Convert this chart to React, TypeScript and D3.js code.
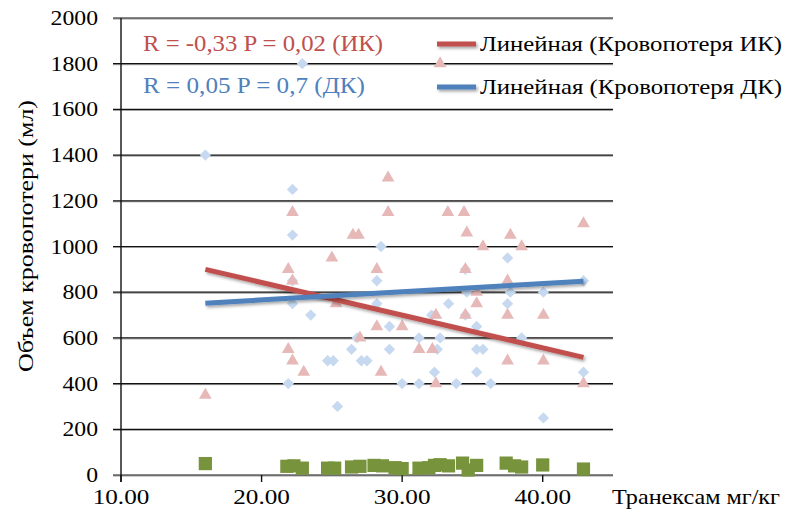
import React from 'react';
import * as d3 from 'd3';

// ---- Data ----
const xTicks = [10, 20, 30, 40];
const xTickLabels = ['10.00', '20.00', '30.00', '40.00'];
const yTicks = [0, 200, 400, 600, 800, 1000, 1200, 1400, 1600, 1800, 2000];

// Кровопотеря ИК (triangles)
const ikPoints: [number, number][] = [
  [16.0, 350], [21.9, 900], [22.2, 850], [22.2, 1150], [21.9, 550], [22.2, 500],
  [23.0, 450], [25.0, 950], [25.3, 750], [26.5, 1050], [26.9, 1050], [27.0, 600],
  [28.2, 900], [28.2, 650], [28.5, 450], [29.0, 1300], [29.0, 1150], [30.0, 650],
  [31.2, 550], [32.15, 550], [32.4, 700], [32.4, 400], [32.7, 1800], [33.25, 1150],
  [34.4, 1150], [34.6, 1060], [34.5, 900], [34.5, 700], [35.3, 800], [35.3, 750],
  [35.75, 1000], [37.5, 850], [37.5, 700], [37.5, 500], [37.7, 1050], [38.5, 1000],
  [40.05, 700], [40.05, 500], [42.9, 1100], [42.9, 400],
];

// Кровопотеря ДК (diamonds)
const dkPoints: [number, number][] = [
  [16.0, 1400], [22.9, 1800], [22.2, 1250], [22.2, 1050], [22.2, 850], [22.2, 750],
  [23.5, 700], [21.9, 400], [24.7, 500], [25.1, 500], [25.4, 300], [26.4, 550],
  [26.8, 600], [27.1, 500], [27.5, 500], [28.5, 1000], [28.2, 850], [28.2, 750],
  [29.1, 650], [29.1, 550], [30.0, 400], [31.2, 400], [31.2, 600], [32.1, 700],
  [32.7, 600], [32.5, 550], [32.3, 450], [33.3, 750], [33.85, 400], [34.5, 900],
  [34.5, 700], [34.6, 800], [35.3, 650], [35.3, 550], [35.75, 550], [35.3, 450],
  [36.3, 400], [37.5, 950], [37.5, 750], [37.7, 800], [38.5, 600], [40.05, 800],
  [40.05, 250], [42.9, 850], [42.9, 450],
];

// third series (green squares)
const greenPoints: [number, number][] = [
  [16.0, 50], [21.8, 38], [22.3, 40], [22.9, 30], [24.7, 30], [25.2, 30],
  [26.4, 35], [27.0, 38], [28.0, 42], [28.6, 40], [29.5, 32], [30.0, 28],
  [31.2, 30], [31.9, 32], [32.3, 42], [32.7, 45], [33.3, 40], [34.3, 52],
  [34.7, 22], [35.3, 42], [37.4, 52], [38.0, 40], [38.5, 35], [40.0, 44],
  [42.9, 26],
];

// linear trend lines (endpoints)
const trendIK: [number, number][] = [[16.0, 900], [42.9, 515]];
const trendDK: [number, number][] = [[16.0, 752], [42.9, 848]];

const legendLabels = ['Линейная (Кровопотеря ИК)', 'Линейная (Кровопотеря ДК)'];
const annotIK = 'R = -0,33 P = 0,02 (ИК)';
const annotDK = 'R = 0,05 P = 0,7 (ДК)';
const yTitle = 'Объем кровопотери (мл)';
const xTitle = 'Транексам мг/кг';

const RED = '#C0504D';
const BLUE = '#4F81BD';
const TRI = '#E6B9B8';
const DIA = '#C6D9F1';
const GREEN = '#77933C';
const FONT = "'Liberation Serif', 'Times New Roman', Times, serif";

export default function App() {
  const W = 785, H = 515;
  const x = d3.scaleLinear().domain([10, 45]).range([121, 613]);
  const y = d3.scaleLinear().domain([0, 2000]).range([475, 18]);

  const tri = d3.symbol(d3.symbolTriangle, 70)()!;
  const dia = d3.symbol(d3.symbolSquare, 64)()!;
  const sq = d3.symbol(d3.symbolSquare, 175)()!;
  const line = d3.line<[number, number]>().x(d => x(d[0])).y(d => y(d[1]));

  const left = x.range()[0];
  const right = x.range()[1];
  const ts = { fontFamily: FONT };

  return (
    <svg width={W} height={H} style={{ position: 'absolute', left: 0, top: 0, background: '#fff', fontFamily: FONT }}>
      <defs>
        <filter id="shadow" filterUnits="userSpaceOnUse" x={0} y={0} width={W} height={H}>
          <feDropShadow dx="1.5" dy="2" stdDeviation="1.5" floodColor="#000" floodOpacity="0.35" />
        </filter>
      </defs>
      <rect width={W} height={H} fill="#fff" />

      {/* gridlines */}
      {yTicks.map(t => (
        <g key={t}>
          <line x1={left - 8} x2={right} y1={y(t) + 1} y2={y(t) + 1} stroke="#999" strokeWidth={1} />
          <line x1={left - 8} x2={right} y1={y(t)} y2={y(t)} stroke="#111" strokeWidth={1.2} />
        </g>
      ))}
      {/* y axis */}
      <line x1={left} x2={left} y1={y(2000)} y2={y(0) + 7} stroke="#111" strokeWidth={1.4} />
      {/* x ticks */}
      {xTicks.map(t => (
        <line key={t} x1={x(t)} x2={x(t)} y1={y(0)} y2={y(0) + 7} stroke="#111" strokeWidth={1.4} />
      ))}

      {/* y tick labels */}
      {yTicks.map(t => (
        <text key={t} style={ts} transform={`translate(98,${y(t)}) scale(1.13,1)`} textAnchor="end"
          dominantBaseline="central" fontSize={21} fill="#000">{t}</text>
      ))}
      {/* x tick labels */}
      {xTicks.map((t, i) => (
        <text key={t} style={ts} transform={`translate(${x(t)},${497}) scale(1.2,1)`} textAnchor="middle"
          dominantBaseline="central" fontSize={21} fill="#000">{xTickLabels[i]}</text>
      ))}

      {/* axis titles */}
      <text style={ts} transform={`translate(26,236) rotate(-90)`} textAnchor="middle" dominantBaseline="central"
        fontSize={20} textLength={272} lengthAdjust="spacingAndGlyphs" fill="#000">{yTitle}</text>
      <text style={ts} x={612} y={497} dominantBaseline="central" fontSize={21} textLength={168}
        lengthAdjust="spacingAndGlyphs" fill="#000">{xTitle}</text>

      {/* green squares */}
      {greenPoints.map((p, i) => (
        <path key={'g' + i} d={sq} transform={`translate(${x(p[0])},${y(p[1])})`} fill={GREEN} />
      ))}
      {/* diamonds ДК */}
      {dkPoints.map((p, i) => (
        <path key={'d' + i} d={dia} transform={`translate(${x(p[0])},${y(p[1])}) rotate(45)`} fill={DIA} />
      ))}
      {/* triangles ИК */}
      {ikPoints.map((p, i) => (
        <path key={'t' + i} d={tri} transform={`translate(${x(p[0])},${y(p[1])})`} fill={TRI} />
      ))}

      {/* trend lines */}
      <path d={line(trendIK)!} stroke={RED} strokeWidth={5} fill="none" filter="url(#shadow)" />
      <path d={line(trendDK)!} stroke={BLUE} strokeWidth={5} fill="none" filter="url(#shadow)" />

      {/* annotations */}
      <text style={ts} x={143} y={43} dominantBaseline="central" fontSize={23} textLength={240}
        lengthAdjust="spacingAndGlyphs" fill={RED}>{annotIK}</text>
      <text style={ts} x={143} y={85} dominantBaseline="central" fontSize={23} textLength={222}
        lengthAdjust="spacingAndGlyphs" fill={BLUE}>{annotDK}</text>

      {/* legend */}
      {legendLabels.map((lab, i) => {
        const ly = i === 0 ? 44 : 87;
        return (
          <g key={lab}>
            <line x1={437} x2={476} y1={ly} y2={ly} stroke={i === 0 ? RED : BLUE} strokeWidth={5}
              filter="url(#shadow)" />
            <text style={ts} x={480} y={ly} dominantBaseline="central" fontSize={21} textLength={302}
              lengthAdjust="spacingAndGlyphs" fill="#000">{lab}</text>
          </g>
        );
      })}
    </svg>
  );
}
